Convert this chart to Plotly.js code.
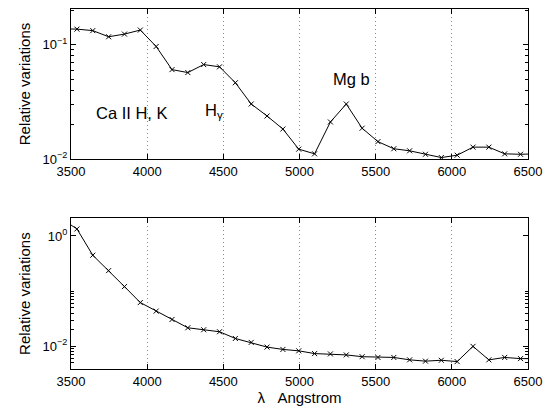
<!DOCTYPE html>
<html>
<head>
<meta charset="utf-8">
<script src="https://cdn.plot.ly/plotly-3.0.1.min.js"></script>
<style>html,body{margin:0;padding:0;background:#fff;}#chart{width:544px;height:412px;}</style>
</head>
<body>
<div id="chart"></div>
<script>
// Wavelength bins (Angstrom)
const wavelength = [3435,3539,3643,3747,3851,3955,4059,4163,4267,4371,4475,4579,4683,4787,4891,4995,5099,5203,5307,5411,5515,5619,5723,5827,5931,6035,6139,6243,6347,6451,6555];
// Top panel: relative variations
const topValues = [0.138,0.137,0.133,0.1175,0.124,0.1345,0.0966,0.0606,0.0571,0.0671,0.0641,0.0465,0.0303,0.0238,0.0183,0.0122,0.0111,0.0211,0.0303,0.0186,0.0142,0.0123,0.0118,0.0110,0.0103,0.0108,0.0127,0.0127,0.0111,0.0110,0.0111];
// Bottom panel: relative variations
const bottomValues = [2.07,1.34,0.448,0.236,0.121,0.0622,0.0435,0.0307,0.0217,0.0200,0.0184,0.0139,0.0118,0.0097,0.0088,0.0083,0.0074,0.0073,0.0070,0.0065,0.0063,0.0063,0.0057,0.0054,0.0056,0.0053,0.0100,0.0057,0.0063,0.0060,0.0060];
// Tick labels
const xTicks = [3500,4000,4500,5000,5500,6000,6500];
const xTickLabels = ['3500','4000','4500','5000','5500','6000','6500'];
const topYTicks = [0.01,0.1];
const topYTickLabels = ['10<sup>\u22122</sup>','10<sup>\u22121</sup>'];
const topYMinor = [0.02,0.03,0.04,0.05,0.06,0.07,0.08,0.09,0.2];
const botYTicks = [0.01,1];
const botYTickLabels = ['10<sup>\u22122</sup>','10<sup>0</sup>'];
const botYMinor = [0.004,0.005,0.006,0.007,0.008,0.009,0.02,0.03,0.04,0.05,0.06,0.07,0.08,0.09,0.1];
// Line labels
const lineLabels = ['Ca II H, K','H<sub>\u03b3</sub>','Mg b'];
const lineLabelX = [3650,4367,5208];
const lineLabelY = [0.0254,0.0262,0.0506];

const FONT = 'Liberation Sans, Arial, Helvetica, sans-serif';
const lineStyle = {color:'#000', width:1};
const markerStyle = {symbol:'x-thin', size:5, color:'#000', line:{color:'#000', width:1}};

const traces = [
  {x: wavelength, y: topValues, type:'scatter', mode:'lines+markers', line: lineStyle, marker: markerStyle, xaxis:'x', yaxis:'y', showlegend:false, hoverinfo:'skip'},
  {x: wavelength, y: bottomValues, type:'scatter', mode:'lines+markers', line: lineStyle, marker: markerStyle, xaxis:'x2', yaxis:'y2', showlegend:false, hoverinfo:'skip'}
];

function xAxis(anchor, withTitle){
  const a = {
    anchor: anchor, domain:[0,1], range:[3500,6500],
    tickmode:'array', tickvals: xTicks, ticktext: xTickLabels,
    ticks:'inside', ticklen:5, tickcolor:'#000', mirror:'allticks',
    showline:true, linecolor:'#000', linewidth:1,
    showgrid:true, gridcolor:'#888', griddash:'1px,3px', gridwidth:1,
    zeroline:false, tickfont:{family:FONT, size:13, color:'#000'}
  };
  if (withTitle) a.title = {text:'\u03bb\u00a0\u00a0 Angstrom', font:{family:FONT, size:15, color:'#000'}, standoff:0};
  return a;
}
function yAxis(anchor, domain, range, tv, tt, minor){
  return {
    anchor: anchor, type:'log', domain: domain, range: range,
    tickmode:'array', tickvals: tv, ticktext: tt,
    ticks:'inside', ticklen:5, tickcolor:'#000', mirror:'allticks',
    minor:{tickmode:'array', tickvals: minor, ticks:'inside', ticklen:3, tickcolor:'#000', showgrid:false},
    showline:true, linecolor:'#000', linewidth:1, showgrid:false, zeroline:false,
    tickfont:{family:FONT, size:13, color:'#000'},
    title:{text:'Relative variations', font:{family:FONT, size:15, color:'#000'}, standoff:8}
  };
}

const annotations = lineLabels.map((t,i)=>({
  text: t, x: lineLabelX[i], y: Math.log10(lineLabelY[i]), xref:'x', yref:'y',
  xanchor:'left', yanchor:'middle', showarrow:false,
  font:{family:FONT, size:16.5, color:'#000'}
}));

const layout = {
  width:544, height:412,
  margin:{l:71, r:16, t:9, b:43},
  paper_bgcolor:'#fff', plot_bgcolor:'#fff',
  font:{family:FONT, color:'#000'},
  showlegend:false,
  xaxis: xAxis('y', false),
  yaxis: yAxis('x', [0.5833,1], [-2,-0.687], topYTicks, topYTickLabels, topYMinor),
  xaxis2: xAxis('y2', true),
  yaxis2: yAxis('x2', [0,0.4186], [-2.41,0.32], botYTicks, botYTickLabels, botYMinor),
  annotations: annotations
};

Plotly.newPlot('chart', traces, layout, {staticPlot:true, displayModeBar:false});
</script>
</body>
</html>
